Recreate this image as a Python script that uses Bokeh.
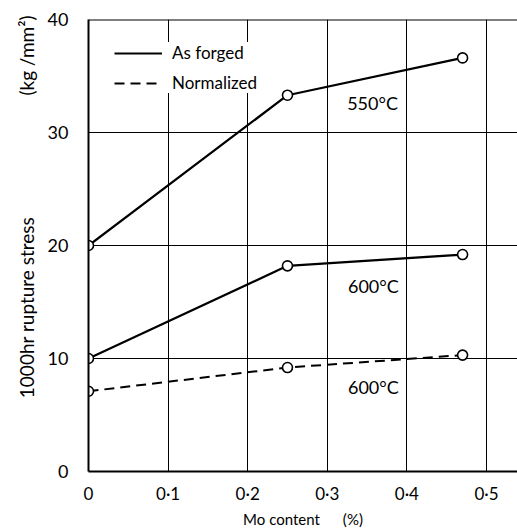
from bokeh.plotting import figure
from bokeh.models import (Range1d, FixedTicker, Span, Legend, LegendItem,
                          ColumnDataSource)
from bokeh.core.properties import value
from bokeh.embed import file_html
from bokeh.resources import INLINE

# ---- data ----
mo_content = [0.0, 0.25, 0.47]
forged_550 = [20.0, 33.3, 36.6]
forged_600 = [10.0, 18.2, 19.2]
normalized_600 = [7.1, 9.2, 10.3]

x_ticks = [0.0, 0.1, 0.2, 0.3, 0.4, 0.5]
x_tick_labels = ["0", "0·1", "0·2", "0·3", "0·4", "0·5"]
y_ticks = [0, 10, 20, 30, 40]
y_tick_labels = ["0", "10", "20", "30", "40"]

curve_labels = ["550°C", "600°C", "600°C"]
curve_label_x = [0.325, 0.326, 0.326]
curve_label_y = [32.6, 16.4, 7.5]

legend_labels = ["As forged", "Normalized"]

FONT = "Lato"
NB = "\u00a0"

p = figure(width=517, height=530, output_backend="svg", toolbar_location=None,
           x_range=Range1d(0, 0.539), y_range=Range1d(0, 40),
           min_border_left=88, min_border_right=0, min_border_top=19,
           min_border_bottom=58, background_fill_color="white",
           border_fill_color="white")
p.outline_line_color = None

# axes
for ax in (p.xaxis[0], p.yaxis[0]):
    ax.axis_line_width = 2
    ax.axis_line_color = "black"
    ax.major_tick_line_color = None
    ax.minor_tick_line_color = None
    ax.major_label_text_font = FONT
    ax.major_label_text_color = "black"
    ax.axis_label_text_font = FONT
    ax.axis_label_text_font_style = "normal"
    ax.axis_label_text_color = "black"

p.xaxis.ticker = FixedTicker(ticks=x_ticks)
p.xaxis.major_label_overrides = {t: l for t, l in zip(x_ticks, x_tick_labels)}
p.xaxis.major_label_text_font_size = "17px"
p.xaxis.major_label_standoff = 5
p.xaxis.axis_label = "Mo content" + NB * 6 + "(%)"
p.xaxis.axis_label_text_font_size = "15px"
p.xaxis.axis_label_standoff = 3

p.yaxis.ticker = FixedTicker(ticks=y_ticks)
p.yaxis.major_label_overrides = {t: l for t, l in zip(y_ticks, y_tick_labels)}
p.yaxis.major_label_text_font_size = "18px"
p.yaxis.major_label_standoff = 14
p.yaxis.major_label_orientation = "horizontal"
p.yaxis.axis_label = NB * 16 + "1000hr rupture stress" + NB * 25 + "(kg /mm²)"
p.yaxis.axis_label_text_font_size = "19px"
p.yaxis.axis_label_standoff = 7

# grid
for g in (p.xgrid[0], p.ygrid[0]):
    g.grid_line_color = "black"
    g.grid_line_width = 1
    g.grid_line_alpha = 1
p.add_layout(Span(location=40, dimension="width", line_color="black",
                  line_width=2))

# curves
r_550 = p.line(mo_content, forged_550, line_color="black", line_width=2.2)
r_600 = p.line(mo_content, forged_600, line_color="black", line_width=2.2)
r_norm = p.line(mo_content, normalized_600, line_color="black", line_width=2,
                line_dash="10 6")
for ys in (forged_550, forged_600, normalized_600):
    p.scatter(mo_content, ys, marker="circle", size=10, fill_color="white",
              line_color="black", line_width=1.6)

src = ColumnDataSource(dict(x=curve_label_x, y=curve_label_y, t=curve_labels))
p.text(x="x", y="y", text="t", source=src, text_font=value(FONT),
       text_font_size="18px", text_color="black",
       text_baseline="alphabetic", text_align="left")

legend = Legend(items=[LegendItem(label=legend_labels[0], renderers=[r_550]),
                       LegendItem(label=legend_labels[1], renderers=[r_norm])],
                location=(26, 378), orientation="vertical")
legend.glyph_width = 48
legend.glyph_height = 20
legend.label_standoff = 10
legend.spacing = 9
legend.padding = 12
legend.margin = 0
legend.border_line_color = None
legend.background_fill_color = "white"
legend.background_fill_alpha = 1
legend.label_text_font = FONT
legend.label_text_font_size = "17px"
legend.label_text_color = "black"
p.add_layout(legend, "center")

open("out.html", "w").write(file_html(p, INLINE))
